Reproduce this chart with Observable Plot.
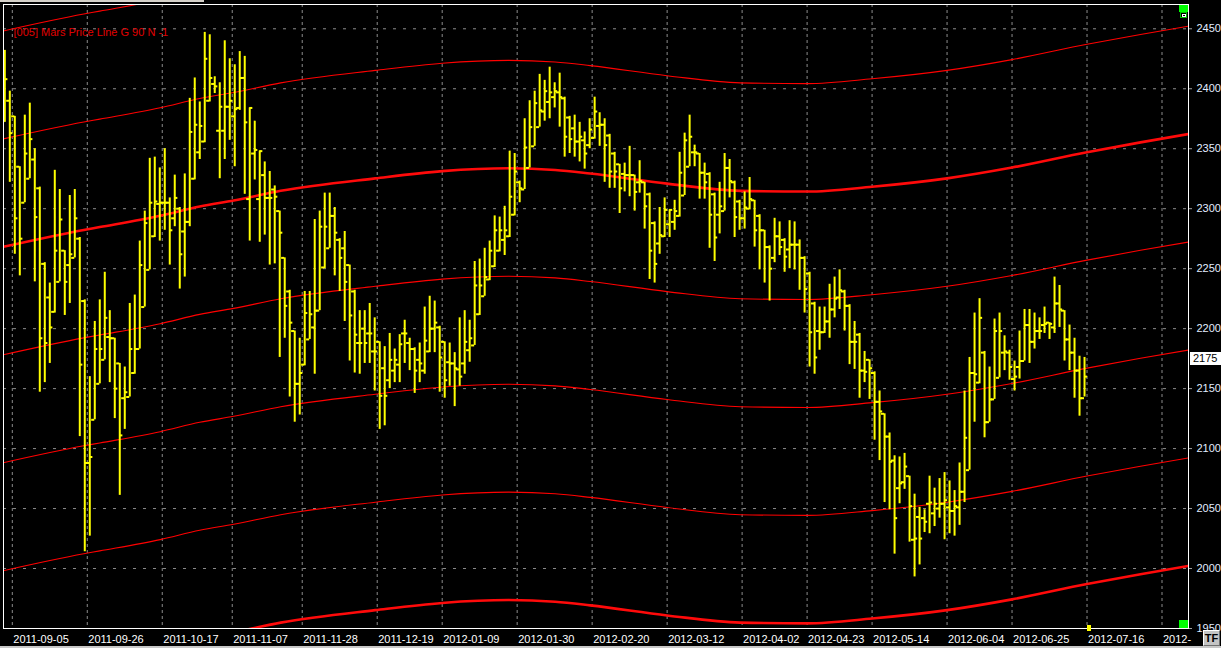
<!DOCTYPE html>
<html><head><meta charset="utf-8">
<script src="https://cdn.jsdelivr.net/npm/d3@7"></script>
<script src="https://cdn.jsdelivr.net/npm/@observablehq/plot@0.6"></script>
<style>
html,body{margin:0;padding:0;background:#000;}
#wrap{position:relative;width:1221px;height:648px;overflow:hidden;background:#000;}
.abs{position:absolute;box-sizing:border-box;}
</style></head><body><div id="wrap"></div>
<script>
const title = "[005] Mars Price Line G 90 N -1";
const highs = [2432,2398,2377,2335,2378,2388,2350,2318,2255,2238,2332,2316,2265,2311,2316,2276,2224,2160,2206,2224,2247,2215,2192,2171,2168,2221,2228,2273,2298,2342,2343,2334,2350,2309,2328,2301,2329,2392,2409,2389,2447,2445,2410,2405,2440,2425,2420,2431,2427,2384,2373,2348,2339,2331,2319,2298,
2259,2232,2198,2192,2231,2231,2291,2298,2313,2313,2301,2275,2281,2253,2232,2215,2215,2221,2209,2189,2185,2196,2183,2195,2207,2192,2184,2188,2218,2227,2223,2202,2189,2188,2180,2209,2215,2207,2256,2258,2267,2273,2294,2293,2302,2348,2346,2323,2375,2390,2398,2412,2407,2418,
2405,2413,2393,2377,2378,2372,2364,2375,2393,2380,2375,2362,2347,2337,2338,2352,2328,2340,2322,2313,2289,2301,2309,2299,2307,2347,2363,2378,2353,2346,2338,2330,2313,2322,2346,2341,2323,2307,2314,2326,2307,2295,2282,2269,2292,2289,2275,2290,2289,2274,2260,2247,2222,2218,
2218,2237,2243,2249,2232,2220,2206,2196,2181,2174,2164,2148,2129,2113,2094,2093,2096,2077,2062,2051,2049,2077,2067,2075,2080,2073,2065,2088,2148,2176,2213,2225,2181,2168,2208,2213,2194,2182,2173,2198,2216,2216,2213,2209,2218,2205,2243,2236,2215,2203,2192,2177,2176];
const lows = [2372,2322,2262,2244,2305,2325,2239,2147,2155,2171,2213,2239,2211,2221,2259,2110,2014,2027,2124,2154,2174,2155,2125,2061,2116,2143,2162,2183,2218,2249,2276,2273,2282,2253,2285,2233,2243,2285,2324,2341,2355,2389,2396,2325,2341,2357,2335,2382,2312,2273,2324,2272,2278,2253,2254,2176,
2192,2143,2122,2128,2169,2191,2162,2215,2250,2267,2244,2231,2206,2173,2163,2162,2171,2171,2148,2116,2119,2150,2155,2155,2171,2165,2146,2155,2162,2180,2180,2147,2142,2152,2135,2152,2162,2172,2186,2211,2227,2240,2251,2264,2261,2276,2294,2305,2316,2334,2352,2368,2373,2375,
2384,2368,2343,2346,2343,2339,2333,2350,2358,2352,2322,2317,2317,2296,2314,2310,2298,2313,2283,2241,2238,2262,2276,2276,2282,2293,2311,2335,2335,2308,2308,2267,2256,2279,2298,2309,2276,2282,2283,2299,2268,2249,2238,2223,2255,2261,2247,2250,2249,2232,2213,2168,2162,2182,
2196,2192,2209,2216,2198,2170,2166,2142,2155,2141,2107,2090,2055,2049,2012,2054,2066,2022,1993,2003,2030,2029,2035,2042,2024,2029,2027,2036,2055,2082,2122,2154,2109,2122,2141,2159,2165,2157,2148,2158,2173,2171,2183,2191,2196,2191,2196,2201,2173,2165,2142,2127,2143];
const opens = [2373,2390,2377,2335,2305,2325,2341,2317,2254,2226,2214,2239,2265,2253,2259,2275,2223,2088,2124,2154,2174,2193,2192,2171,2142,2143,2163,2183,2218,2249,2277,2304,2305,2305,2292,2300,2281,2289,2325,2347,2356,2390,2404,2365,2365,2385,2377,2384,2409,2308,2346,2308,2328,2309,2316,2298,
2259,2231,2198,2154,2170,2191,2201,2215,2251,2267,2294,2274,2267,2253,2231,2188,2200,2196,2181,2189,2167,2157,2165,2170,2196,2188,2183,2174,2165,2181,2200,2201,2189,2172,2171,2166,2171,2182,2186,2212,2227,2241,2252,2265,2274,2277,2295,2322,2316,2334,2352,2368,2381,2389,
2393,2397,2392,2376,2367,2356,2357,2353,2359,2369,2370,2361,2346,2337,2329,2328,2328,2322,2322,2312,2288,2271,2277,2287,2289,2294,2311,2335,2347,2346,2330,2329,2312,2295,2298,2334,2322,2306,2292,2300,2307,2294,2282,2268,2259,2277,2274,2266,2270,2270,2259,2246,2221,2198,
2197,2206,2216,2226,2231,2219,2189,2195,2165,2174,2163,2139,2129,2110,2090,2067,2072,2077,2024,2043,2042,2054,2046,2050,2054,2051,2048,2051,2064,2082,2163,2155,2180,2122,2141,2159,2180,2180,2158,2168,2173,2203,2189,2198,2203,2205,2201,2221,2215,2191,2180,2165,2142];
const closes = [2408,2363,2292,2275,2346,2358,2293,2192,2188,2201,2265,2291,2239,2262,2292,2170,2088,2093,2183,2183,2209,2192,2150,2111,2147,2183,2183,2253,2288,2305,2306,2305,2305,2282,2309,2262,2289,2364,2370,2369,2425,2409,2402,2385,2385,2390,2383,2409,2372,2384,2349,2348,2309,2309,2310,2280,
2219,2205,2154,2163,2213,2212,2215,2285,2285,2294,2280,2259,2239,2211,2195,2188,2188,2196,2181,2144,2144,2174,2174,2187,2196,2183,2165,2171,2190,2200,2205,2176,2157,2171,2167,2160,2189,2192,2236,2236,2243,2265,2282,2282,2282,2310,2331,2317,2351,2368,2388,2382,2398,2397,
2398,2393,2360,2358,2356,2360,2346,2366,2381,2370,2353,2331,2331,2317,2328,2328,2314,2323,2302,2265,2254,2278,2299,2299,2298,2330,2357,2360,2347,2330,2322,2295,2276,2302,2334,2323,2293,2292,2301,2308,2282,2282,2268,2250,2277,2268,2260,2270,2270,2259,2233,2197,2176,2197,
2206,2216,2225,2232,2219,2189,2189,2165,2164,2167,2139,2131,2110,2089,2042,2071,2085,2052,2025,2025,2039,2055,2054,2054,2057,2048,2052,2064,2109,2163,2162,2209,2122,2141,2198,2198,2181,2168,2160,2173,2203,2189,2198,2198,2204,2204,2221,2216,2191,2180,2165,2142,2160];

const tickIdx = [2,17,32,46,60,75,88,103,118,133,148,161,174,189,202,217,232];
const tickLabels = ["2011-09-05","2011-09-26","2011-10-17","2011-11-07","2011-11-28","2011-12-19","2012-01-09","2012-01-30","2012-02-20","2012-03-12","2012-04-02","2012-04-23","2012-05-14","2012-06-04","2012-06-25","2012-07-16","2012-"];
const yTicks = [1950,2000,2050,2100,2150,2200,2250,2300,2350,2400,2450];

// Mars price line (base line)
const curveIdx = [-0.3,15.8,19,31.1,39,45.8,55.2,74.1,87.5,100.8,110.1,117.1,132.5,147.1,160.5,173.5,188.5,201.5,216.5,227.2,236.8];
const curveVal = [2268.2,2282.3,2284.7,2294.1,2301.9,2306.9,2314.9,2325.3,2331.3,2333.7,2332.3,2329.3,2320.9,2314.9,2314.3,2318.3,2325.3,2334.3,2347.1,2355.3,2362.2];
const offsets = [-360,-270,-180,-90,0,90,180];
const thickOffsets = [-360,0];
const lastLabel = 2175;
const nextBarIdx = 217;

const bars = highs.map((h,i)=>({i, high:h, low:lows[i], open:opens[i], close:closes[i]}));
const linePts = offsets.flatMap(off => curveIdx.map((x,j)=>({x, v:curveVal[j]+off, off, thick: thickOffsets.includes(off)})));

const font = "'Liberation Sans', Arial, sans-serif";
const plot = Plot.plot({
  width:1221, height:648, marginTop:4, marginBottom:20, marginLeft:3, marginRight:33,
  style:{background:"#000", color:"#fff", fontFamily:font, fontSize:"11px", overflow:"visible"},
  x:{domain:[-0.26,236.8], axis:null},
  y:{domain:[1950,2470.25], axis:null},
  marks:[
    Plot.ruleY(yTicks,{stroke:"#8c8c8c", strokeDasharray:"3,7"}),
    Plot.ruleX(tickIdx,{x:d=>d-0.5, stroke:"#8c8c8c", strokeDasharray:"3,3"}),
    Plot.line(linePts.filter(d=>!d.thick),{x:"x", y:"v", z:"off", stroke:"#ff0000", strokeWidth:1.1, curve:"monotone-x", clip:true}),
    Plot.line(linePts.filter(d=>d.thick),{x:"x", y:"v", z:"off", stroke:"#ff0a0a", strokeWidth:2.6, curve:"monotone-x", clip:true}),
    Plot.ruleX(bars,{x:"i", y1:"low", y2:"high", stroke:"#ffff00", strokeWidth:2, clip:true}),
    Plot.ruleY(bars,{y:"open", x1:d=>d.i-0.62, x2:"i", stroke:"#ffff00", strokeWidth:2, clip:true}),
    Plot.ruleY(bars,{y:"close", x1:"i", x2:d=>d.i+0.62, stroke:"#ffff00", strokeWidth:2, clip:true}),
    Plot.frame({stroke:"#ffffff"}),
    Plot.axisY(yTicks,{anchor:"right", tickSize:3, tickPadding:5, stroke:"#a0a0a0", fill:"#e2ecff", tickFormat:d=>String(d), fontSize:11, fontFamily:font}),
    Plot.text(tickIdx,{x:d=>d-0.5, text:(d,i)=>tickLabels[i], frameAnchor:"bottom", lineAnchor:"middle", dy:10.5, dx:1, textAnchor:"start", fill:"#ffffff", fontSize:11}),
    Plot.text([title],{frameAnchor:"top-left", lineAnchor:"middle", textAnchor:"start", dx:10, dy:28, fill:"#e00000", fontSize:11})
  ]
});
const wrap = document.getElementById("wrap");
wrap.appendChild(plot);
plot.style.position = "absolute"; plot.style.left = "0px"; plot.style.top = "0px";

function box(l,t,w,h,css){const d=document.createElement("div");d.className="abs";d.style.left=l+"px";d.style.top=t+"px";d.style.width=w+"px";d.style.height=h+"px";Object.assign(d.style,css||{});wrap.appendChild(d);return d;}
box(0,0,204,2,{background:"#d4d0c8"});
box(0,646,1221,2,{background:"#c8c8c8"});
box(1179,5,9,7,{background:"#00ff00"});
box(1180,12,7,6,{background:"#000", border:"1px solid #00c000"});
box(1182,14,4,3,{border:"1px solid #fff"});
box(1179,620,9,8,{background:"#00ff00"});
const xs = plot.scale("x"), ys = plot.scale("y");
box(Math.round(xs.apply(nextBarIdx))-2,625,4,6,{background:"#ffff00"});
const lb = box(1190, Math.round(ys.apply(lastLabel))-6, 31, 13, {background:"#fff", color:"#000", font:"11px "+font, lineHeight:"13px", paddingLeft:"3px"});
lb.textContent = String(lastLabel);
const tf = box(1203,630,17,16,{background:"#c4c4c4", borderTop:"1px solid #fff", borderLeft:"1px solid #fff", borderRight:"1px solid #707070", borderBottom:"1px solid #707070", color:"#000", font:"bold 11px "+font, lineHeight:"14px", textAlign:"center"});
tf.textContent = "TF";
</script></body></html>
